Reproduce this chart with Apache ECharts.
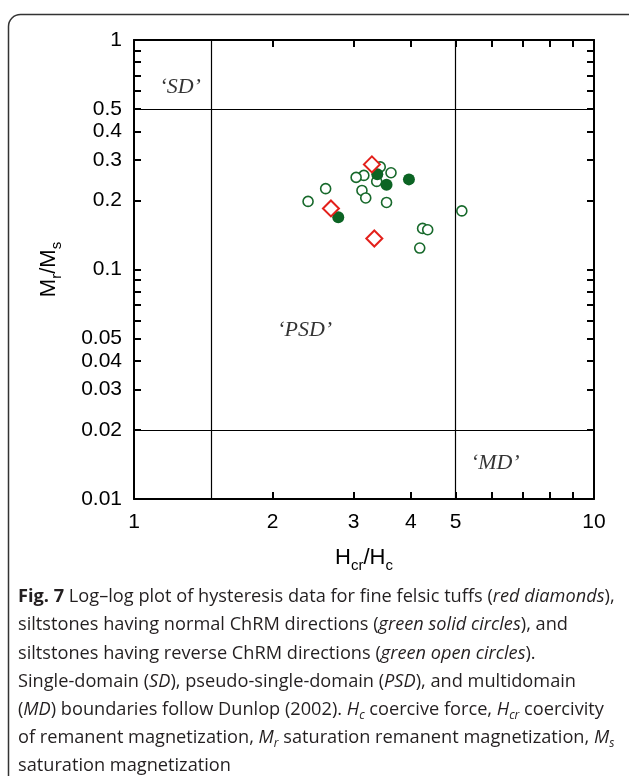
<!DOCTYPE html>
<html>
<head>
    <meta charset="utf-8">
    <script src="https://cdn.jsdelivr.net/npm/echarts@6/dist/echarts.min.js"></script>
    <style>
        html, body { margin: 0; padding: 0; background: #fff; }
    </style>
</head>
<body>
    <div id="main" style="width: 629px;height:776px;"></div>
    <script type="text/javascript">
        // Hcr/Hc, Mr/Ms
        var tuffs = [[3.29, 0.287], [2.68, 0.1845], [3.33, 0.1365]];
        var normalSilt = [[3.38, 0.260], [3.54, 0.234], [3.96, 0.247], [2.78, 0.169]];
        var reverseSilt = [
            [3.43, 0.280], [3.16, 0.257], [3.04, 0.252], [3.62, 0.264], [3.37, 0.242],
            [2.61, 0.225], [3.13, 0.221], [3.19, 0.205], [2.39, 0.198], [3.54, 0.196],
            [5.16, 0.180], [4.24, 0.151], [4.35, 0.149], [4.18, 0.124]
        ];
        // Dunlop (2002) boundaries
        var boundX = [1.47, 5];
        var boundY = [0.5, 0.02];
        var regionLabels = [[1.26, 0.62, '‘SD’'], [2.35, 0.0545, '‘PSD’'], [6.1, 0.0143, '‘MD’']];

        var xTicks = [1, 2, 3, 4, 5, 6, 7, 8, 9, 10];
        var xLabels = [1, 2, 3, 4, 5, 10];
        var yTicks = [0.01, 0.02, 0.03, 0.04, 0.05, 0.06, 0.07, 0.08, 0.09,
                      0.1, 0.2, 0.3, 0.4, 0.5, 0.6, 0.7, 0.8, 0.9, 1];
        var yLabels = [0.01, 0.02, 0.03, 0.04, 0.05, 0.1, 0.2, 0.3, 0.4, 0.5, 1];

        var caption = [
            '{b|Fig. 7} Log–log plot of hysteresis data for fine felsic tuffs ({i|red diamonds}),',
            'siltstones having normal ChRM directions ({i|green solid circles}), and',
            'siltstones having reverse ChRM directions ({i|green open circles}).',
            'Single-domain ({i|SD}), pseudo-single-domain ({i|PSD}), and multidomain',
            '({i|MD}) boundaries follow Dunlop (2002). {i|H}{s|c} coercive force, {i|H}{s|cr} coercivity',
            'of remanent magnetization, {i|M}{s|r} saturation remanent magnetization, {i|M}{s|s}',
            'saturation magnetization'
        ];

        var green = '#17692b';
        var red = '#e3201b';
        var sansFont = 'Liberation Sans';
        var capSize = 18.2;

        var myChart = echarts.init(document.getElementById('main'));

        function fmt(v) { return String(+Number(v).toPrecision(3)); }

        function axisCommon(ticks, labels, showLabel) {
            return {
                type: 'log',
                logBase: 10,
                axisLine: { show: true, onZero: false, lineStyle: { color: '#000', width: 2 } },
                axisTick: { show: true, inside: true, length: 7, customValues: ticks,
                            lineStyle: { color: '#000', width: 2 } },
                axisLabel: { show: showLabel, customValues: labels, formatter: fmt,
                             color: '#000', fontFamily: sansFont, fontSize: 21 },
                splitLine: { show: false },
                minorTick: { show: false }
            };
        }

        var nameStyle = {
            color: '#000', fontFamily: sansFont, fontSize: 22, lineHeight: 30, verticalAlign: 'middle',
            rich: { s: { fontFamily: sansFont, fontSize: 15, lineHeight: 16, verticalAlign: 'bottom', color: '#000' } }
        };

        var xMain = axisCommon(xTicks, xLabels, true);
        xMain.min = 1; xMain.max = 10; xMain.position = 'bottom';
        xMain.axisLabel.margin = 13;
        xMain.name = 'H{s|cr}/H{s|c}';
        xMain.nameLocation = 'middle';
        xMain.nameGap = 59;
        xMain.nameTextStyle = nameStyle;
        var xTop = axisCommon(xTicks, xLabels, false);
        xTop.min = 1; xTop.max = 10; xTop.position = 'top';

        var yMain = axisCommon(yTicks, yLabels, true);
        yMain.min = 0.01; yMain.max = 1; yMain.position = 'left';
        yMain.axisLabel.margin = 12;
        yMain.name = 'M{s|r}/M{s|s}';
        yMain.nameLocation = 'middle';
        yMain.nameGap = 85;
        yMain.nameRotate = 90;
        yMain.nameTextStyle = nameStyle;
        var yRight = axisCommon(yTicks, yLabels, false);
        yRight.min = 0.01; yRight.max = 1; yRight.position = 'right';

        var graphics = [{
            type: 'rect',
            shape: { x: 8.5, y: 14.5, width: 640, height: 800, r: 12 },
            style: { fill: 'none', stroke: '#333', lineWidth: 1.5 },
            silent: true
        }];
        caption.forEach(function (line, i) {
            graphics.push({
                type: 'text',
                x: 18,
                y: 597 + i * 28.2,
                style: {
                    text: line,
                    fill: '#231f20',
                    fontFamily: 'Open Sans',
                    fontSize: capSize,
                    lineHeight: 24,
                    verticalAlign: 'middle',
                    rich: {
                        b: { fontFamily: 'Open Sans', fontWeight: 'bold', fontSize: capSize, lineHeight: 24, fill: '#231f20' },
                        i: { fontFamily: 'Open Sans', fontStyle: 'italic', fontSize: capSize, lineHeight: 24, fill: '#231f20' },
                        s: { fontFamily: 'Open Sans', fontStyle: 'italic', fontSize: 12, lineHeight: 15, verticalAlign: 'bottom', fill: '#231f20' }
                    }
                },
                silent: true
            });
        });

        var option = {
            animation: false,
            backgroundColor: '#fff',
            grid: { left: 134, top: 40, width: 460, height: 459, outerBoundsMode: 'none' },
            xAxis: [xMain, xTop],
            yAxis: [yMain, yRight],
            graphic: graphics,
            series: [
                {
                    name: 'bounds',
                    type: 'scatter',
                    data: [],
                    silent: true,
                    markLine: {
                        silent: true,
                        symbol: 'none',
                        animation: false,
                        label: { show: false },
                        lineStyle: { color: '#000', width: 1.2, type: 'solid' },
                        data: boundX.map(function (v) { return { xAxis: v }; })
                            .concat(boundY.map(function (v) { return { yAxis: v }; }))
                    }
                },
                {
                    name: 'regions',
                    type: 'scatter',
                    symbolSize: 0,
                    data: regionLabels,
                    silent: true,
                    label: {
                        show: true,
                        position: 'inside',
                        formatter: function (p) { return p.value[2]; },
                        fontFamily: 'Liberation Serif',
                        fontStyle: 'italic',
                        fontSize: 22,
                        color: '#000'
                    }
                },
                {
                    name: 'reverse siltstones',
                    type: 'scatter',
                    symbol: 'circle',
                    symbolSize: 10,
                    data: reverseSilt,
                    itemStyle: { color: '#fff', borderColor: green, borderWidth: 1.6, opacity: 1 }
                },
                {
                    name: 'normal siltstones',
                    type: 'scatter',
                    symbol: 'circle',
                    symbolSize: 12,
                    data: normalSilt,
                    itemStyle: { color: '#0c6424', opacity: 1 }
                },
                {
                    name: 'felsic tuffs',
                    type: 'scatter',
                    symbol: 'diamond',
                    symbolSize: 16,
                    data: tuffs,
                    itemStyle: { color: '#fff', borderColor: red, borderWidth: 2, opacity: 1 }
                }
            ]
        };

        myChart.setOption(option);
    </script>
</body>
</html>
